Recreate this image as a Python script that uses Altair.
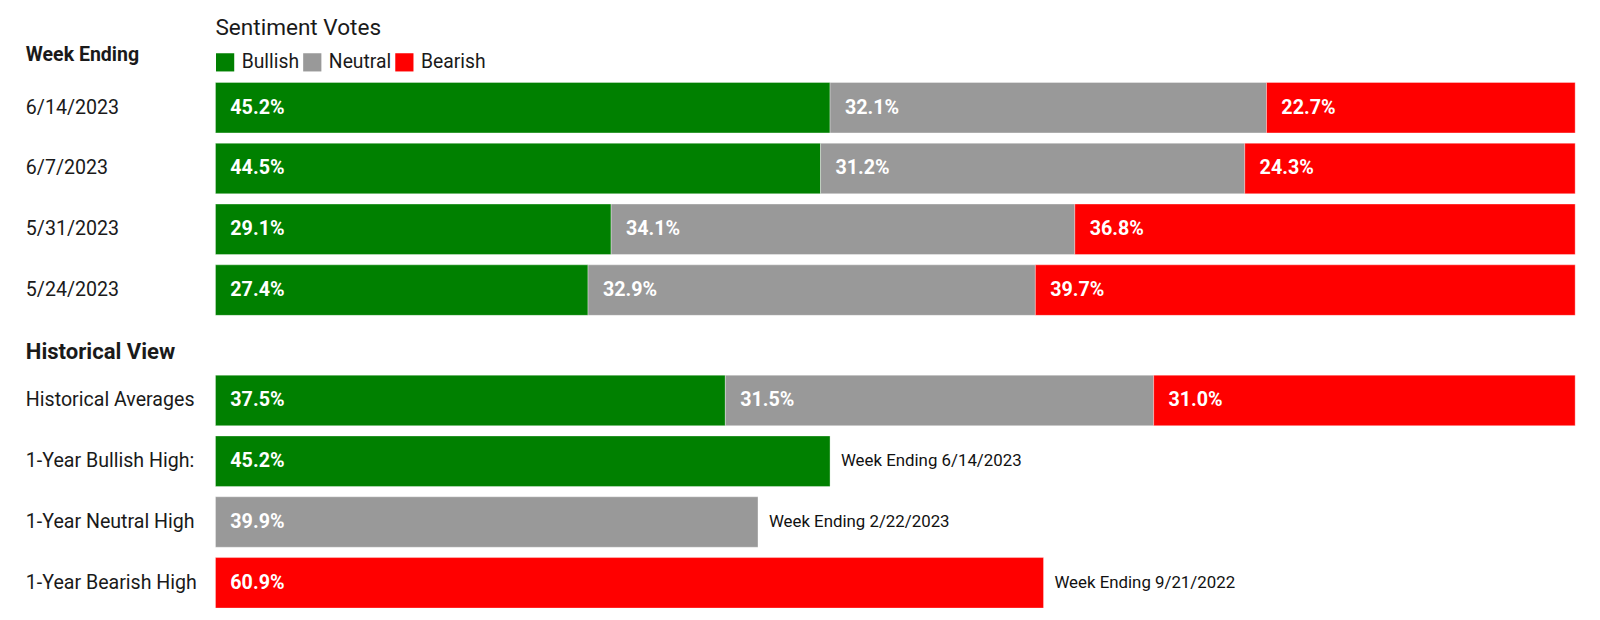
import altair as alt
import pandas as pd

FONT = "Roboto"

weeks = ["6/14/2023", "6/7/2023", "5/31/2023", "5/24/2023"]
bullish = [45.2, 44.5, 29.1, 27.4]
neutral = [32.1, 31.2, 34.1, 32.9]
bearish = [22.7, 24.3, 36.8, 39.7]

sentiments = ["Bullish", "Neutral", "Bearish"]
colors = ["#008000", "#999999", "#ff0000"]

hist_labels = ["Historical Averages", "1-Year Bullish High:", "1-Year Neutral High", "1-Year Bearish High"]
hist_avg = [37.5, 31.5, 31.0]
high_sentiment = ["Bullish", "Neutral", "Bearish"]
high_values = [45.2, 39.9, 60.9]
high_notes = ["Week Ending 6/14/2023", "Week Ending 2/22/2023", "Week Ending 9/21/2022"]

# build tables
top_rows = []
for i, w in enumerate(weeks):
    start = 0.0
    for s, v in zip(sentiments, [bullish[i], neutral[i], bearish[i]]):
        top_rows.append({"row": w, "sentiment": s, "start": start, "end": start + v,
                         "label": f"{v:.1f}%", "note": ""})
        start += v
top_df = pd.DataFrame(top_rows)

bot_rows = []
start = 0.0
for s, v in zip(sentiments, hist_avg):
    bot_rows.append({"row": hist_labels[0], "sentiment": s, "start": start, "end": start + v,
                     "label": f"{v:.1f}%", "note": ""})
    start += v
for lab, s, v, n in zip(hist_labels[1:], high_sentiment, high_values, high_notes):
    bot_rows.append({"row": lab, "sentiment": s, "start": 0.0, "end": v,
                     "label": f"{v:.1f}%", "note": n})
bot_df = pd.DataFrame(bot_rows)

W = 1373
STEP = 61.4
GAP = 10.4
PIN = GAP / STEP
LABEL_PAD = 192
xscale = alt.Scale(domain=[0, 100], nice=False, zero=True)
cscale = alt.Scale(domain=sentiments, range=colors)
TXT = "#1a1a1a"


def panel(df, order, title, title_y, title_size, legend, h, pout):
    yscale = alt.Scale(domain=order, paddingInner=PIN, paddingOuter=pout)
    yaxis = alt.Axis(title=title, titleAngle=0, titleAlign="left", titleX=-LABEL_PAD, titleY=title_y,
                     titleBaseline="alphabetic", titleFontWeight="bold", titleFontSize=title_size,
                     titleFont=FONT, titleColor=TXT,
                     labelAlign="left", labelPadding=LABEL_PAD, ticks=False, tickSize=0, domain=False,
                     labelFont=FONT, labelFontSize=19.8, labelColor=TXT, labelLimit=260)
    base = alt.Chart(df)
    bars = base.mark_bar(stroke="#ffffff", strokeOpacity=0.35, strokeWidth=1).encode(
        y=alt.Y("row:N", scale=yscale, axis=yaxis, sort=order),
        x=alt.X("start:Q", scale=xscale, axis=None),
        x2="end:Q",
        color=alt.Color("sentiment:N", scale=cscale, legend=legend),
    )
    labels = base.mark_text(align="left", baseline="middle", dx=15, color="white",
                            font=FONT, fontWeight="bold", fontSize=19.9).encode(
        y=alt.Y("row:N", sort=order),
        x=alt.X("start:Q", axis=None),
        text="label:N",
    )
    notes = base.mark_text(align="left", baseline="middle", dx=11, color="#111111",
                           font=FONT, fontSize=17).encode(
        y=alt.Y("row:N", sort=order),
        x=alt.X("end:Q", axis=None),
        text="note:N",
    )
    return alt.layer(bars, labels, notes).properties(width=W, height=h)


legend = alt.Legend(title="Sentiment Votes", orient="none", legendX=0, legendY=-61,
                    direction="horizontal", symbolType="square", symbolSize=338,
                    symbolStrokeWidth=0, symbolOpacity=1, labelOffset=7, columnPadding=3,
                    titleFont=FONT, titleFontSize=22.8, titleFontWeight="normal", titleColor=TXT,
                    titlePadding=13, labelFont=FONT, labelFontSize=19.5, labelColor=TXT)

top = panel(top_df, weeks, "Week Ending", -16.5, 19.7, legend, 4 * STEP, GAP / 2 / STEP)
# bottom panel: first bar flush with the top edge, last bar flush with the bottom edge
bottom = panel(bot_df, hist_labels, "Historical View", -16.5, 22.3, None, 4 * STEP - GAP, 0.0)

chart = alt.vconcat(top, bottom, spacing=54.8, bounds="flush").resolve_legend(
    color="independent"
).properties(
    padding={"left": 17.5, "top": 6, "right": 5, "bottom": 0}
).configure_view(stroke=None)

chart.save("out.html", embed_options={"renderer": "svg", "actions": False})
